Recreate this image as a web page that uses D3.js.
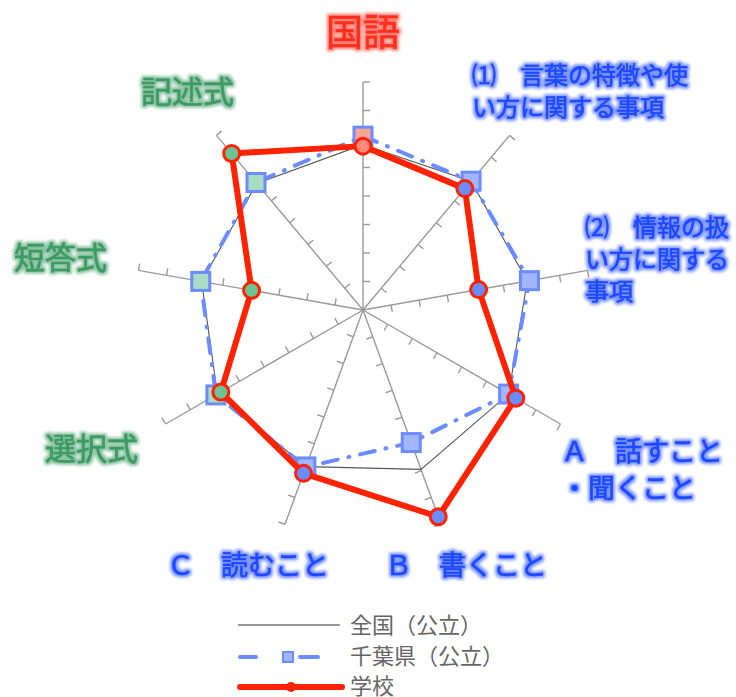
<!DOCTYPE html>
<html lang="ja">
<head>
	<meta charset="utf-8">
	<title>国語 レーダーチャート</title>
	<script type="text/javascript" src="https://cdn.jsdelivr.net/npm/d3@7"></script>
	<style>
		body { margin: 0; background: #fff; }
		svg text { font-family: "Noto Sans CJK JP", "Noto Sans", sans-serif; }
	</style>
</head>
<body>
<div id="chart">
<script type="text/javascript">

	// categories (label lines for each axis, clockwise from top)
	var categories = [
		["国語"],
		["⑴　言葉の特徴や使", "い方に関する事項"],
		["⑵　情報の扱", "い方に関する", "事項"],
		["Ａ　話すこと", "・聞くこと"],
		["Ｂ　書くこと"],
		["Ｃ　読むこと"],
		["選択式"],
		["短答式"],
		["記述式"]
	];
	// colour group of each category
	var groups = ["total", "field", "field", "field", "field", "field", "form", "form", "form"];

	// series values (correct answer rate, %)
	var national = [58.0, 59.0, 58.5, 59.0, 59.5, 58.5, 59.0, 57.5, 58.0];
	var chiba    = [61.0, 59.0, 59.3, 59.0, 49.5, 58.6, 59.6, 57.8, 58.4];
	var school   = [57.5, 55.6, 41.2, 61.9, 77.2, 61.0, 57.6, 39.7, 71.7];

	// axis ticks
	var tickValues = [10, 20, 30, 40, 50, 60, 70, 80];

	// legend entries
	var legendNames = ["全国（公立）", "千葉県（公立）", "学校"];

	var width = 736, height = 697;
	var cx = 363, cy = 310, radius = 228;
	var n = categories.length;
	var step = 2 * Math.PI / n;

	var textColor  = {total: "#ff2e1f", field: "#1f48ff", form: "#3c9a63"};
	var circleFill = {total: "#ff8a78", field: "#6b8cff", form: "#6cc495"};
	var squareFill = {total: "#f6a596", field: "#a3b5ff", form: "#a9dcc2"};

	// label placement (anchor x, first baseline y, font size, line height)
	var labelPos = [
		{x: 363, y: 46, size: 37, lh: 0, anchor: "middle"},
		{x: 472, y: 84, size: 24, lh: 32, anchor: "start"},
		{x: 585, y: 236, size: 24, lh: 32, anchor: "start"},
		{x: 561, y: 461, size: 27, lh: 37, anchor: "start"},
		{x: 385, y: 575, size: 27, lh: 0, anchor: "start"},
		{x: 167, y: 575, size: 27, lh: 0, anchor: "start"},
		{x: 45, y: 460, size: 31, lh: 0, anchor: "start"},
		{x: 14, y: 269, size: 31, lh: 0, anchor: "start"},
		{x: 141, y: 103, size: 31, lh: 0, anchor: "start"}
	];

	var svg = d3.select("#chart")
		.append("svg")
		.attr("width", width)
		.attr("height", height);

	// glow filter for the labels: dilate + blur the text, then put it back on top
	var defs = svg.append("defs");
	var glow = defs.append("filter")
		.attr("id", "glow")
		.attr("x", "-20%").attr("y", "-40%")
		.attr("width", "140%").attr("height", "180%");
	glow.append("feMorphology")
		.attr("in", "SourceGraphic")
		.attr("operator", "dilate")
		.attr("radius", 1.6)
		.attr("result", "thick");
	glow.append("feGaussianBlur")
		.attr("in", "thick")
		.attr("stdDeviation", 1.4)
		.attr("result", "blur");
	glow.append("feComponentTransfer")
		.attr("in", "blur")
		.attr("result", "soft")
		.append("feFuncA")
			.attr("type", "linear")
			.attr("slope", 0.6);
	var merge = glow.append("feMerge");
	merge.append("feMergeNode").attr("in", "soft");
	merge.append("feMergeNode").attr("in", "SourceGraphic");

	// radial scale
	var rScale = d3.scaleLinear()
		.domain([0, 80])
		.range([0, radius]);

	var g = svg.append("g")
		.attr("transform", "translate(" + cx + "," + cy + ")");

	// axes with ticks, each rotated to its angle
	var axes = g.selectAll(".axis")
		.data(categories)
		.enter()
			.append("g")
			.attr("class", "axis")
			.attr("transform", function(d, i) { return "rotate(" + (i * 360 / n) + ")"; });

	axes.append("line")
		.attr("x1", 0).attr("y1", 0)
		.attr("x2", 0).attr("y2", -rScale(80))
		.attr("stroke", "#9a9a9a")
		.attr("stroke-width", 1.4);

	axes.selectAll(".tick")
		.data(tickValues)
		.enter()
			.append("line")
			.attr("class", "tick")
			.attr("x1", 0)
			.attr("x2", 7)
			.attr("y1", function(d) { return -rScale(d); })
			.attr("y2", function(d) { return -rScale(d); })
			.attr("stroke", "#9a9a9a")
			.attr("stroke-width", 1.4);

	var radar = d3.lineRadial()
		.angle(function(d, i) { return i * step; })
		.radius(function(d) { return rScale(d); })
		.curve(d3.curveLinearClosed);

	function px(d, i) { return rScale(d) * Math.sin(i * step); }
	function py(d, i) { return -rScale(d) * Math.cos(i * step); }

	// national line
	g.append("path")
		.attr("d", radar(national))
		.attr("fill", "none")
		.attr("stroke", "#555")
		.attr("stroke-width", 1.1);

	// prefecture line
	g.append("path")
		.attr("d", radar(chiba))
		.attr("fill", "none")
		.attr("stroke", "#6b8cff")
		.attr("stroke-width", 4)
		.attr("stroke-linecap", "round")
		.attr("stroke-dasharray", "15 11 1 11");

	g.selectAll(".sq")
		.data(chiba)
		.enter()
			.append("rect")
			.attr("class", "sq")
			.attr("x", function(d, i) { return px(d, i) - 9; })
			.attr("y", function(d, i) { return py(d, i) - 9; })
			.attr("width", 18)
			.attr("height", 18)
			.attr("fill", function(d, i) { return squareFill[groups[i]]; })
			.attr("stroke", "#6b8cff")
			.attr("stroke-width", 3);

	// school line
	g.append("path")
		.attr("d", radar(school))
		.attr("fill", "none")
		.attr("stroke", "#ff2200")
		.attr("stroke-width", 6)
		.attr("stroke-linejoin", "round");

	g.selectAll(".dot")
		.data(school)
		.enter()
			.append("circle")
			.attr("class", "dot")
			.attr("cx", function(d, i) { return px(d, i); })
			.attr("cy", function(d, i) { return py(d, i); })
			.attr("r", 8)
			.attr("fill", function(d, i) { return circleFill[groups[i]]; })
			.attr("stroke", "#ff2200")
			.attr("stroke-width", 3);

	// category labels
	categories.forEach(function(lines, i) {
		var p = labelPos[i];
		var col = textColor[groups[i]];
		var t = svg.append("text")
			.attr("x", p.x)
			.attr("y", p.y)
			.attr("text-anchor", p.anchor)
			.attr("font-size", p.size)
			.attr("fill", col)
			.attr("stroke", col)
			.attr("stroke-width", 0.6)
			.attr("filter", "url(#glow)");
		t.selectAll("tspan")
			.data(lines)
			.enter()
				.append("tspan")
				.attr("x", p.x)
				.attr("dy", function(d, j) { return j === 0 ? 0 : p.lh; })
				.text(function(d) { return d; });
	});

	// legend
	var legend = svg.append("g")
		.attr("transform", "translate(238,625)");

	legend.append("line")
		.attr("x1", 0).attr("x2", 102)
		.attr("y1", 0).attr("y2", 0)
		.attr("stroke", "#333")
		.attr("stroke-width", 1.2);

	legend.append("line")
		.attr("x1", 2).attr("x2", 84)
		.attr("y1", 32).attr("y2", 32)
		.attr("stroke", "#6b8cff")
		.attr("stroke-width", 4)
		.attr("stroke-linecap", "round")
		.attr("stroke-dasharray", "16 28 1 3 0 12 18");

	legend.append("rect")
		.attr("x", 45).attr("y", 27)
		.attr("width", 10).attr("height", 10)
		.attr("fill", squareFill.field)
		.attr("stroke", "#6b8cff")
		.attr("stroke-width", 2);

	legend.append("line")
		.attr("x1", 2).attr("x2", 104)
		.attr("y1", 62).attr("y2", 62)
		.attr("stroke", "#ff2200")
		.attr("stroke-width", 6)
		.attr("stroke-linecap", "round");

	legend.append("circle")
		.attr("cx", 53).attr("cy", 62)
		.attr("r", 5)
		.attr("fill", "#ff2200");

	legend.selectAll(".lg")
		.data(legendNames)
		.enter()
			.append("text")
			.attr("class", "lg")
			.attr("x", 112)
			.attr("y", function(d, i) { return 8 + i * 30.5; })
			.attr("font-size", 22)
			.attr("fill", "#666")
			.text(function(d) { return d; });

</script>
</div>
</body>
</html>
